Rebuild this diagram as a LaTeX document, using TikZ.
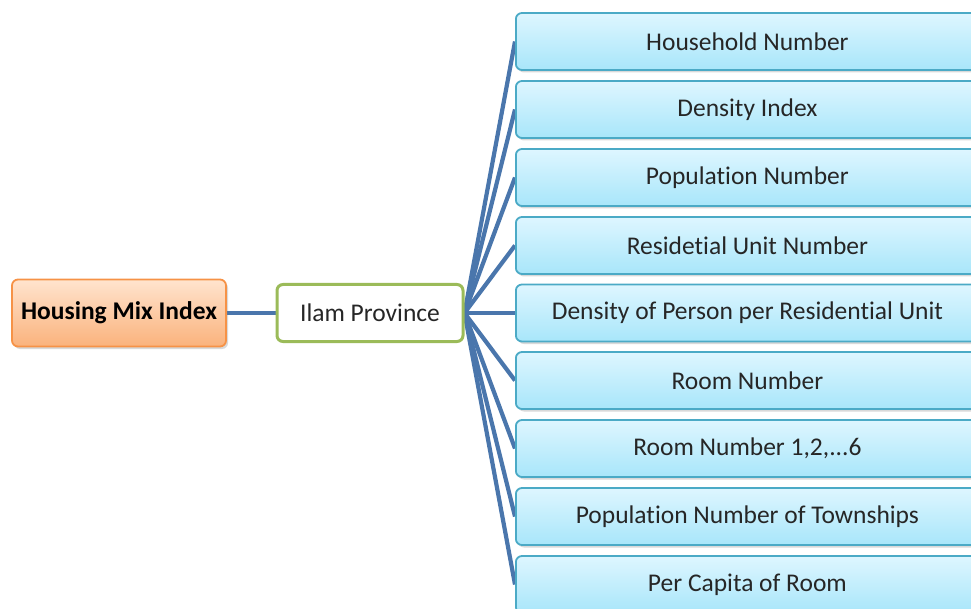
\documentclass[tikz,border=0pt]{standalone}
\usepackage{fontspec}
\setmainfont{Carlito}[Ligatures=NoCommon]
\usetikzlibrary{shadows,backgrounds}
\definecolor{linkblue}{RGB}{74,118,172}
\definecolor{leafborder}{RGB}{75,170,198}
\definecolor{leaftop}{RGB}{222,246,255}
\definecolor{leafbot}{RGB}{168,230,250}
\definecolor{rootborder}{RGB}{246,146,70}
\definecolor{roottop}{RGB}{255,228,206}
\definecolor{rootbot}{RGB}{250,178,124}
\definecolor{midborder}{RGB}{155,187,89}
\begin{document}
\begin{tikzpicture}[x=1pt,y=1pt,
  leaf/.style={draw=leafborder, line width=1.8pt, rounded corners=6pt,
    top color=leaftop, bottom color=leafbot, minimum width=463pt,
    minimum height=57pt, inner sep=0pt, anchor=west,
    font=\fontsize{25.5}{30}\selectfont, text=black!85,
    drop shadow={shadow xshift=2pt, shadow yshift=-2.5pt, opacity=0.3}},
  rootbox/.style={draw=rootborder, line width=1.8pt, rounded corners=6pt,
    top color=roottop, bottom color=rootbot, minimum width=214pt,
    minimum height=67pt, inner sep=0pt,
    font=\fontsize{25.5}{30}\selectfont\bfseries, text=black,
    drop shadow={shadow xshift=2pt, shadow yshift=-2.5pt, opacity=0.3}},
  midbox/.style={draw=midborder, line width=3pt, rounded corners=6pt,
    fill=white, minimum width=186pt, minimum height=57pt, inner sep=0pt,
    font=\fontsize{25.5}{30}\selectfont, text=black!85},
  link/.style={draw=linkblue, line width=4.2pt}]
\useasboundingbox (0,0) rectangle (971,-609);
\clip (0,0) rectangle (971,-609);
\node[rootbox] (root) at (119,-313) {Housing Mix Index};
\node[midbox] (ilam) at (370,-313) {Ilam Province};
\node[leaf] (l1) at (515,-41.5) {Household Number};
\node[leaf] (l2) at (515,-109.5) {Density Index};
\node[leaf] (l3) at (515,-177.5) {Population Number};
\node[leaf] (l4) at (515,-245.5) {Residetial Unit Number};
\node[leaf] (l5) at (515,-313) {Density of Person per Residential Unit};
\node[leaf] (l6) at (515,-380.5) {Room Number};
\node[leaf] (l7) at (515,-448.5) {Room Number 1,2,...6};
\node[leaf] (l8) at (515,-516.5) {Population Number of Townships};
\node[leaf] (l9) at (515,-584.5) {Per Capita of Room};
\begin{scope}[on background layer]
\draw[link] (root.east) -- (ilam.west);
\foreach \i in {1,...,9}{
  \draw[link] (ilam.east) -- (l\i.west);
}
\end{scope}
\end{tikzpicture}
\end{document}
